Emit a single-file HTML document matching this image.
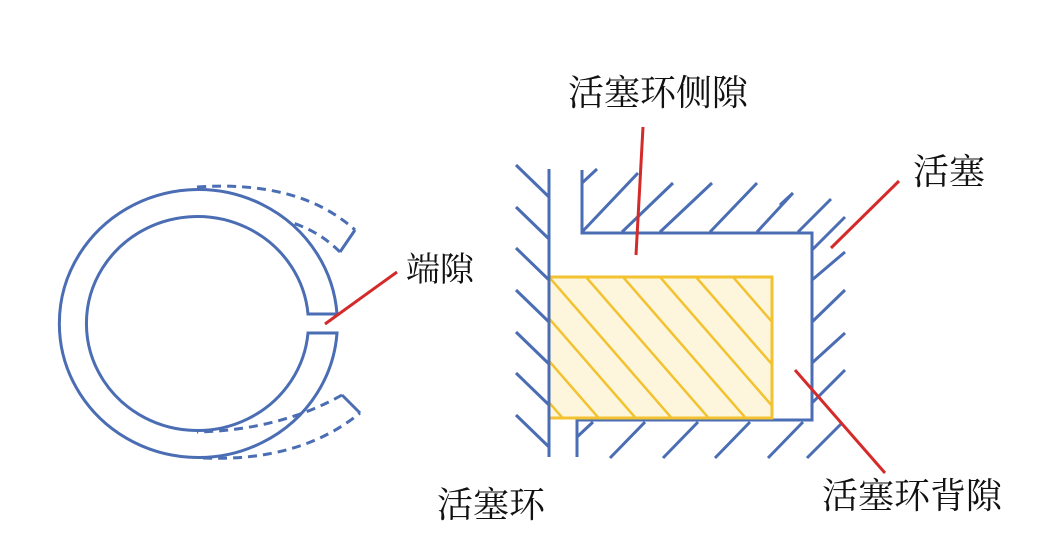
<!DOCTYPE html>
<html><head><meta charset="utf-8"><style>
html,body{margin:0;padding:0;background:#fff;}
svg{display:block}
text{font-family:"Liberation Serif","Noto Serif CJK SC",serif;fill:#111;}
</style></head><body>
<svg width="1062" height="534" viewBox="0 0 1062 534" xmlns="http://www.w3.org/2000/svg">
<defs><clipPath id="rc"><rect x="549" y="277" width="223" height="141"/></clipPath></defs>
<g fill="none" stroke="#4a6db3" stroke-width="3">
<!-- ring -->
<path d="M308,314 L337,314 A139 134 0 1 0 337,333 L308,333 A111 107 0 1 1 308,314 Z"/>
<g stroke-dasharray="9,6">
<path d="M197,187 Q300,180 355,230"/>
<path d="M340,252 Q320,232 293,223"/>
<path d="M203,458 Q300,462 360,413"/>
<path d="M342,395 Q280,430 197,432"/>
</g>
<path d="M355,230 L340,252 M360,413 L342,395"/>
<!-- cylinder wall -->
<path d="M549,169 L549,457"/>
<path d="M516,165 L549,197 M516,207 L549,239 M516,248 L549,280 M516,290 L549,322 M516,332 L549,364 M516,373 L549,405 M516,415 L549,447"/>
<!-- piston -->
<path d="M582,170 L582,233 L812,233 L812,420 L577,420 L577,457"/>
<path d="M582,183 L597,169 M582,232 L638,173 M622,232 L673,183 M660,232 L712,183 M710,232 L757,183 M757,232 L793,193 M798,232 L831,199 M780,205 L793,193"/>
<path d="M812,250 L845,217 M812,280 L845,252 M812,322 L845,290 M812,363 L845,333 M812,403 L845,370"/>
<path d="M577,437 L593,422 M610,458 L645,422 M663,458 L698,422 M715,458 L750,422 M768,458 L803,422 M807,458 L842,423"/>
</g>
<!-- ring section -->
<rect x="549" y="277" width="223" height="141" fill="#fdf6dc"/>
<g clip-path="url(#rc)" stroke="#f2c230" stroke-width="2.5">
<path d="M513,277 L653,438 M549,277 L689,438 M586,277 L726,438 M623,277 L763,438 M660,277 L800,438 M696,277 L836,438 M733,277 L873,438 M476,277 L616,438 M440,277 L580,438 M403,277 L543,438 M366,277 L506,438 M329,277 L469,438"/>
</g>
<rect x="549" y="277" width="223" height="141" fill="none" stroke="#f2c230" stroke-width="3"/>
<path d="M549,275 L549,420" stroke="#4a6db3" stroke-width="3"/>
<!-- red leaders -->
<g stroke="#d42a2a" stroke-width="3">
<path d="M325,324 L397,272"/>
<path d="M643,127 L636,255"/>
<path d="M831,248 L899,181"/>
<path d="M795,370 L885,473"/>
</g>
<text x="406" y="281" font-size="34">端隙</text>
<text x="568" y="105" font-size="36">活塞环侧隙</text>
<text x="913" y="184" font-size="36">活塞</text>
<text x="822" y="508" font-size="36">活塞环背隙</text>
<text x="437" y="517" font-size="36">活塞环</text>
</svg>
</body></html>
